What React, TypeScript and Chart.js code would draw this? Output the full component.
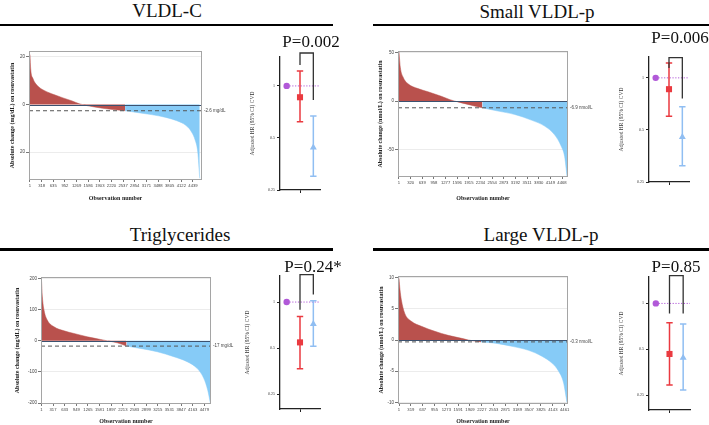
import React, { useEffect, useRef } from "react";
import { Chart, registerables } from "chart.js";
Chart.register(...registerables);

// ---------------- DATA ----------------
// Waterfall: observation number (sorted) and absolute change
const vldlcObs = [1, 20, 80, 200, 400, 650, 900, 1150, 1350, 1750, 2200, 2590, 2900, 3300, 3700, 4000, 4250, 4400, 4500, 4570, 4623];
const vldlcChange = [21, 15, 11, 8, 5.8, 4.2, 2.8, 1.5, 0.3, -1, -2, -2.6, -3.3, -4.2, -5.4, -6.8, -8.8, -11.5, -15, -20, -31];
const vldlcXTicks = ["1", "318", "635", "952", "1269", "1586", "1903", "2220", "2537", "2854", "3171", "3488", "3805", "4122", "4439"];
const vldlcYTicks = [-20, 0, 20];
const vldlcYTickLabels = ["20", "0", "20"];

const smallObs = [1, 38, 111, 248, 522, 796, 1161, 1400, 1530, 1891, 2284, 2713, 3170, 3627, 3992, 4266, 4449, 4540, 4604];
const smallChange = [51, 35, 25, 18, 13, 9.7, 5, 1.5, 0, -3.4, -6.9, -10.3, -13.8, -19.7, -25.9, -35, -47, -57.6, -77.6];
const smallXTicks = ["1", "320", "639", "958", "1277", "1596", "1915", "2234", "2554", "2873", "3192", "3511", "3830", "4149", "4468"];
const smallYTicks = [-50, 0, 50];
const smallYTickLabels = ["-50", "0", "50"];

const trigObs = [1, 28, 74, 166, 348, 623, 897, 1262, 1628, 1811, 2085, 2341, 2725, 3182, 3639, 4005, 4279, 4462, 4571, 4644];
const trigChange = [200, 141, 98, 66, 45, 32, 23.5, 12.8, 4.3, 0, -6.4, -17, -24.5, -35, -51, -67, -88.5, -120, -158, -200];
const trigXTicks = ["1", "317", "633", "949", "1265", "1581", "1897", "2213", "2583", "2899", "3215", "3531", "3847", "4163", "4479"];
const trigYTicks = [-200, -100, 0, 100, 200];
const trigYTickLabels = ["-200", "-100", "0", "100", "200"];

const largeObs = [1, 28, 64, 154, 334, 605, 965, 1325, 1686, 1866, 2208, 2587, 3037, 3487, 3848, 4118, 4298, 4433, 4523];
const largeChange = [9.9, 8.05, 6.45, 4.3, 3.0, 2.2, 1.4, 0.75, 0.27, 0, -0.3, -0.5, -1.0, -1.65, -2.6, -3.7, -5, -6.9, -10];
const largeXTicks = ["1", "319", "637", "955", "1273", "1591", "1909", "2227", "2553", "2871", "3189", "3507", "3825", "4143", "4461"];
const largeYTicks = [-10, -5, 0, 5, 10];
const largeYTickLabels = ["-10", "-5", "0", "5", "10"];

// Hazard ratios: [reference, red group, blue group]
const vldlcHR = [1, 0.86, 0.44];
const vldlcLower = [1, 0.62, 0.3];
const vldlcUpper = [1, 1.22, 0.67];
const smallHR = [1, 0.86, 0.455];
const smallLower = [1, 0.6, 0.31];
const smallUpper = [1, 1.22, 0.68];
const trigHR = [1, 0.545, 0.718];
const trigLower = [1, 0.366, 0.514];
const trigUpper = [1, 0.805, 1.02];
const largeHR = [1, 0.466, 0.441];
const largeLower = [1, 0.292, 0.271];
const largeUpper = [1, 0.747, 0.732];

const hrTicks = [0.25, 0.5, 1];
const hrTickLabels = ["0.25", "0.5", "1"];

// ---------------- STYLE ----------------
const WF_RED = "#b9514d";
const WF_BLUE = "#86cbf7";
const PURPLE = "#b159d8";
const HR_RED = "#ea3a40";
const HR_BLUE = "#90bef2";
const GROUP_X = [0.5, 1.5, 2.5];

type Box = { left: number; top: number; width: number; height: number };
type Area = { left: number; top: number; right: number; bottom: number };

type WFProps = {
  obs: number[]; vals: number[]; threshold: number; thresholdLabel: string;
  yTitle: string; yMin: number; yMax: number; yTicks: number[]; yTickLabels: string[];
  xTickLabels: string[]; xMin: number; xMax: number;
  box: Box; area: Area; yTitleX: number; xTitleY: number;
};

function Waterfall(p: WFProps) {
  const ref = useRef<HTMLCanvasElement>(null);
  useEffect(() => {
    const pts = p.obs.map((x, i) => ({ x, y: p.vals[i] }));
    const split = p.vals.findIndex((v) => v <= p.threshold);
    const redPts = pts.slice(0, split + 1);
    const bluePts = pts.slice(split);
    const n = p.xTickLabels.length;
    const first = Number(p.xTickLabels[0]);
    const last = Number(p.xTickLabels[n - 1]);
    const tickPos = p.xTickLabels.map((_, i) => first + ((last - first) * i) / (n - 1));
    const W = p.box.width, H = p.box.height, A = p.area;
    const titleFont = { family: "'Liberation Serif'", weight: "bold" as const, size: 6, lineHeight: 1.2 };
    const tickFont = { family: "'Liberation Sans'", size: 4.2 };
    const overlay = {
      id: "wfOverlay",
      afterDatasetsDraw(chart: any) {
        const { ctx, chartArea: ca, scales } = chart;
        const y = scales.y;
        ctx.save();
        const y0 = Math.round(y.getPixelForValue(0)) + 0.5;
        ctx.strokeStyle = "#3c5270";
        ctx.lineWidth = 1;
        ctx.beginPath(); ctx.moveTo(ca.left, y0); ctx.lineTo(ca.right, y0); ctx.stroke();
        const yt = y.getPixelForValue(p.threshold);
        ctx.setLineDash([4, 3]);
        ctx.strokeStyle = "#555";
        ctx.beginPath(); ctx.moveTo(ca.left, yt); ctx.lineTo(ca.right, yt); ctx.stroke();
        ctx.setLineDash([]);
        ctx.fillStyle = "#444";
        ctx.font = "4.5px 'Liberation Sans'";
        ctx.textBaseline = "middle";
        ctx.textAlign = "left";
        ctx.fillText(p.thresholdLabel, ca.right + 2, yt);
        ctx.strokeStyle = "#a5a5a5";
        ctx.strokeRect(ca.left + 0.5, ca.top + 0.5, ca.right - ca.left - 1, ca.bottom - ca.top - 1);
        ctx.restore();
      },
    };
    const chart = new Chart(ref.current as HTMLCanvasElement, {
      type: "line",
      data: {
        datasets: [
          { data: redPts, backgroundColor: WF_RED, borderColor: WF_RED, borderWidth: 0.5, fill: "origin", pointRadius: 0, cubicInterpolationMode: "monotone" },
          { data: bluePts, backgroundColor: WF_BLUE, borderColor: WF_BLUE, borderWidth: 0.5, fill: "origin", pointRadius: 0, cubicInterpolationMode: "monotone" },
        ],
      } as any,
      options: {
        animation: false,
        responsive: false,
        events: [],
        layout: { autoPadding: false, padding: { left: 0, top: A.top, right: W - A.right, bottom: 0 } },
        plugins: { legend: { display: false }, tooltip: { enabled: false } },
        scales: {
          x: {
            type: "linear", min: p.xMin, max: p.xMax,
            afterBuildTicks: (s: any) => { s.ticks = tickPos.map((v) => ({ value: v })); },
            afterFit: (s: any) => { s.height = H - A.bottom; },
            ticks: { autoSkip: false, maxRotation: 0, minRotation: 0, font: tickFont, color: "#444", padding: 1.5, callback: (_v: any, i: number) => p.xTickLabels[i] },
            grid: { display: true, drawOnChartArea: false, tickLength: 2, tickColor: "#777" },
            border: { display: false },
            title: { display: true, text: "Observation number", font: titleFont, color: "#222", padding: { top: 0, bottom: H - p.xTitleY - 3.6 } },
          },
          y: {
            type: "linear", min: p.yMin, max: p.yMax,
            afterBuildTicks: (s: any) => { s.ticks = p.yTicks.map((v) => ({ value: v })); },
            afterFit: (s: any) => { s.width = A.left; },
            ticks: { font: { family: "'Liberation Sans'", size: 4.5 }, color: "#444", padding: 1, callback: (_v: any, i: number) => p.yTickLabels[i] },
            grid: { display: true, color: (c: any) => (c.tick && c.tick.value === 0 ? "rgba(0,0,0,0)" : "#ececec"), tickLength: 3, tickColor: "#777" },
            border: { display: false },
            title: { display: true, text: p.yTitle, font: titleFont, color: "#222", padding: { top: p.yTitleX - 3.6, bottom: 0 } },
          },
        },
      } as any,
      plugins: [overlay],
    });
    return () => chart.destroy();
  }, []);
  return (
    <canvas ref={ref} width={p.box.width} height={p.box.height}
      style={{ position: "absolute", left: p.box.left, top: p.box.top, width: p.box.width, height: p.box.height }} />
  );
}

type HRProps = {
  hr: number[]; lower: number[]; upper: number[];
  yMin: number; yMax: number;
  bracketTop: number; bracketLeft: number; bracketRight: number;
  box: Box; area: Area; yTitleX: number;
};

function HRPlot(p: HRProps) {
  const ref = useRef<HTMLCanvasElement>(null);
  useEffect(() => {
    const W = p.box.width, H = p.box.height, A = p.area;
    const colors = [PURPLE, HR_RED, HR_BLUE];
    const plug = {
      id: "hrOverlay",
      beforeDatasetsDraw(chart: any) {
        const { ctx, chartArea: ca, scales } = chart;
        const x = scales.x, y = scales.y;
        ctx.save();
        const y1 = y.getPixelForValue(1);
        ctx.strokeStyle = PURPLE;
        ctx.lineWidth = 1;
        ctx.setLineDash([1.2, 1.6]);
        ctx.beginPath(); ctx.moveTo(x.getPixelForValue(GROUP_X[0]), y1); ctx.lineTo(ca.right, y1); ctx.stroke();
        ctx.setLineDash([]);
        for (let i = 1; i < 3; i++) {
          const px = x.getPixelForValue(GROUP_X[i]);
          const yl = y.getPixelForValue(p.lower[i]);
          const yu = y.getPixelForValue(p.upper[i]);
          ctx.strokeStyle = colors[i];
          ctx.lineWidth = 1.5;
          ctx.beginPath();
          ctx.moveTo(px, yl); ctx.lineTo(px, yu);
          ctx.moveTo(px - 3.2, yl); ctx.lineTo(px + 3.2, yl);
          ctx.moveTo(px - 3.2, yu); ctx.lineTo(px + 3.2, yu);
          ctx.stroke();
        }
        ctx.restore();
      },
      afterDatasetsDraw(chart: any) {
        const { ctx, scales } = chart;
        const x = scales.x, y = scales.y;
        ctx.save();
        const xl = x.getPixelForValue(GROUP_X[1]);
        const xr = x.getPixelForValue(GROUP_X[2]);
        const yt = y.getPixelForValue(p.bracketTop);
        ctx.strokeStyle = "#333";
        ctx.lineWidth = 1.3;
        ctx.beginPath();
        ctx.moveTo(xl, y.getPixelForValue(p.bracketLeft));
        ctx.lineTo(xl, yt); ctx.lineTo(xr, yt);
        ctx.lineTo(xr, y.getPixelForValue(p.bracketRight));
        ctx.stroke();
        ctx.restore();
      },
    };
    const chart = new Chart(ref.current as HTMLCanvasElement, {
      type: "scatter",
      data: {
        datasets: [{
          data: p.hr.map((v, i) => ({ x: GROUP_X[i], y: v })),
          pointStyle: ["circle", "rect", "triangle"],
          pointRadius: [3.2, 4.3, 4],
          backgroundColor: colors, borderColor: colors, borderWidth: 0,
          clip: false,
        }],
      } as any,
      options: {
        animation: false,
        responsive: false,
        events: [],
        layout: { autoPadding: false, padding: { left: 0, top: A.top, right: W - A.right, bottom: 0 } },
        plugins: { legend: { display: false }, tooltip: { enabled: false } },
        scales: {
          x: {
            type: "linear", min: 0, max: 3,
            afterBuildTicks: (s: any) => { s.ticks = [{ value: 1.5 }]; },
            afterFit: (s: any) => { s.height = H - A.bottom; },
            ticks: { display: true, font: { size: 4 }, callback: () => "" },
            grid: { display: true, drawOnChartArea: false, tickLength: 3, tickColor: "#222", lineWidth: 1 },
            border: { display: true, color: "#222", width: 1.3 },
          },
          y: {
            type: "logarithmic", min: p.yMin, max: p.yMax,
            afterBuildTicks: (s: any) => { s.ticks = hrTicks.map((v) => ({ value: v })); },
            afterFit: (s: any) => { s.width = A.left; },
            ticks: { font: { family: "'Liberation Serif'", size: 4 }, color: "#333", padding: 2, callback: (_v: any, i: number) => hrTickLabels[i] },
            grid: { display: true, drawOnChartArea: false, tickLength: 3, tickColor: "#222", lineWidth: 1 },
            border: { display: true, color: "#222", width: 1.3 },
            title: { display: true, text: "Adjusted HR (95% CI) CVD", font: { family: "'Liberation Serif'", size: 5.5, lineHeight: 1.2 }, color: "#333", padding: { top: p.yTitleX - 3.3, bottom: 0 } },
          },
        },
      } as any,
      plugins: [plug],
    });
    return () => chart.destroy();
  }, []);
  return (
    <canvas ref={ref} width={p.box.width} height={p.box.height}
      style={{ position: "absolute", left: p.box.left, top: p.box.top, width: p.box.width, height: p.box.height }} />
  );
}

function Title({ text, cx, baseline }: { text: string; cx: number; baseline: number }) {
  return (
    <div style={{ position: "absolute", left: cx - 150, width: 300, top: baseline - 16, textAlign: "center", font: "19px 'Liberation Serif'", lineHeight: "19px", color: "#111", whiteSpace: "nowrap" }}>{text}</div>
  );
}

function PText({ text, cx, baseline }: { text: string; cx: number; baseline: number }) {
  return (
    <div style={{ position: "absolute", left: cx - 50, width: 100, top: baseline - 14, textAlign: "center", font: "17px 'Liberation Serif'", lineHeight: "17px", color: "#111", whiteSpace: "nowrap" }}>{text}</div>
  );
}

function Rule({ left, top, width }: { left: number; top: number; width: number }) {
  return <div style={{ position: "absolute", left, top, width, height: 2.5, background: "#000" }} />;
}

export default function App() {
  return (
    <div style={{ position: "absolute", left: 0, top: 0, width: 709, height: 425, background: "#fff", overflow: "hidden" }}>
      <Title text="VLDL-C" cx={167} baseline={17} />
      <Title text="Small VLDL-p" cx={537} baseline={17.5} />
      <Title text="Triglycerides" cx={180} baseline={241} />
      <Title text="Large VLDL-p" cx={541} baseline={241} />
      <Rule left={0} top={23.5} width={333} />
      <Rule left={373} top={23.5} width={336} />
      <Rule left={0} top={248} width={333} />
      <Rule left={373} top={248} width={336} />

      <Waterfall obs={vldlcObs} vals={vldlcChange} threshold={-2.6} thresholdLabel="-2.6 mg/dL"
        yTitle="Absolute change (mg/dL) on rosuvastatin" yMin={-31.7} yMax={22.5} yTicks={vldlcYTicks} yTickLabels={vldlcYTickLabels}
        xTickLabels={vldlcXTicks} xMin={-26} xMax={4685}
        box={{ left: 0, top: 40, width: 240, height: 170 }} area={{ left: 29, top: 11, right: 202, bottom: 140 }} yTitleX={12} xTitleY={158.7} />
      <Waterfall obs={smallObs} vals={smallChange} threshold={-6.9} thresholdLabel="-6.9 nmol/L"
        yTitle="Absolute change (nmol/L) on rosuvastatin" yMin={-78.7} yMax={52} yTicks={smallYTicks} yTickLabels={smallYTickLabels}
        xTickLabels={smallXTicks} xMin={-26} xMax={4632}
        box={{ left: 365, top: 40, width: 240, height: 170 }} area={{ left: 33, top: 11, right: 203, bottom: 137 }} yTitleX={15} xTitleY={158.7} />
      <Waterfall obs={trigObs} vals={trigChange} threshold={-17} thresholdLabel="-17 mg/dL"
        yTitle="Absolute change (mg/dL) on rosuvastatin" yMin={-203} yMax={205} yTicks={trigYTicks} yTickLabels={trigYTickLabels}
        xTickLabels={trigXTicks} xMin={-10} xMax={4662}
        box={{ left: 0, top: 265, width: 250, height: 160 }} area={{ left: 41, top: 12, right: 211, bottom: 139 }} yTitleX={17} xTitleY={156} />
      <Waterfall obs={largeObs} vals={largeChange} threshold={-0.3} thresholdLabel="-0.3 nmol/L"
        yTitle="Absolute change (nmol/L) on rosuvastatin" yMin={-10.26} yMax={10.27} yTicks={largeYTicks} yTickLabels={largeYTickLabels}
        xTickLabels={largeXTicks} xMin={-26} xMax={4551}
        box={{ left: 365, top: 265, width: 240, height: 160 }} area={{ left: 33, top: 11, right: 203, bottom: 139 }} yTitleX={16} xTitleY={156} />

      <HRPlot hr={vldlcHR} lower={vldlcLower} upper={vldlcUpper} yMin={0.25} yMax={1.47}
        bracketTop={1.55} bracketLeft={1.32} bracketRight={0.83}
        box={{ left: 240, top: 30, width: 100, height: 170 }} area={{ left: 40, top: 27, right: 80, bottom: 160 }} yTitleX={13} />
      <HRPlot hr={smallHR} lower={smallLower} upper={smallUpper} yMin={0.25} yMax={1.32}
        bracketTop={1.31} bracketLeft={1.14} bracketRight={0.76}
        box={{ left: 609, top: 30, width: 100, height: 162 }} area={{ left: 40, top: 27, right: 80, bottom: 152 }} yTitleX={13} />
      <HRPlot hr={trigHR} lower={trigLower} upper={trigUpper} yMin={0.2} yMax={1.48}
        bracketTop={1.51} bracketLeft={0.89} bracketRight={1.12}
        box={{ left: 240, top: 255, width: 100, height: 164 }} area={{ left: 40, top: 21, right: 80, bottom: 154 }} yTitleX={8} />
      <HRPlot hr={largeHR} lower={largeLower} upper={largeUpper} yMin={0.2} yMax={1.49}
        bracketTop={1.52} bracketLeft={0.86} bracketRight={0.86}
        box={{ left: 609, top: 255, width: 100, height: 165 }} area={{ left: 40, top: 22, right: 81, bottom: 155 }} yTitleX={12.7} />

      <PText text="P=0.002" cx={311} baseline={47} />
      <PText text="P=0.006" cx={680} baseline={43} />
      <PText text="P=0.24*" cx={313} baseline={271.5} />
      <PText text="P=0.85" cx={676} baseline={271.5} />
    </div>
  );
}
